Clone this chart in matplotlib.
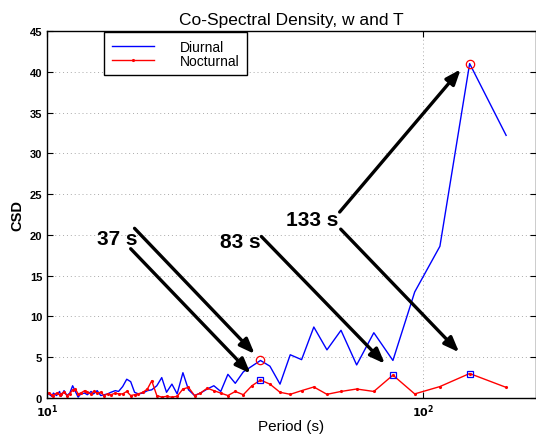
import math
import matplotlib
matplotlib.use("Agg")
import matplotlib.pyplot as plt
from matplotlib.ticker import FixedLocator, FuncFormatter, NullLocator

plt.rcParams['font.family'] = ['Liberation Sans', 'DejaVu Sans']

periods = [10.1, 10.3, 10.4, 10.6, 10.8, 10.9, 11.1, 11.3, 11.5, 11.7, 11.9, 12.1,
           12.3, 12.6, 12.8, 13.1, 13.3, 13.6, 13.9, 14.2, 14.5, 14.8, 15.2, 15.5,
           15.9, 16.3, 16.7, 17.1, 17.5, 18.0, 18.5, 19.0, 19.6, 20.2, 20.8, 21.5,
           22.2, 23.0, 23.8, 24.7, 25.6, 26.7, 27.8, 29.0, 30.3, 31.7, 33.3, 35.1,
           37.0, 39.2, 41.7, 44.4, 47.6, 51.3, 55.6, 60.6, 66.7, 74.1, 83.3, 95.2,
           111.1, 133.3, 166.7]

diurnal = [0.5, 0.2, 0.6, 0.3, 0.8, 0.2, 0.9, 0.3, 0.6, 1.5, 0.8, 0.1,
           0.5, 0.6, 0.4, 0.8, 0.5, 0.9, 0.3, 0.4, 0.5, 0.7, 0.9, 0.8,
           1.4, 2.3, 2.0, 0.7, 0.5, 0.6, 0.9, 1.0, 1.5, 2.5, 0.7, 1.7,
           0.5, 3.1, 1.0, 0.3, 0.6, 1.1, 1.5, 0.8, 2.9, 1.8, 3.2, 3.9,
           4.6, 3.9, 1.7, 5.3, 4.7, 8.7, 5.9, 8.3, 4.05, 8.0, 4.6, 13.0,
           18.6, 41.0, 32.2]

nocturnal = [0.6, 0.4, 0.3, 0.6, 0.4, 0.5, 0.7, 0.3, 0.5, 1.0, 1.1, 0.5,
             0.6, 0.9, 0.7, 0.5, 0.8, 0.6, 0.7, 0.3, 0.5, 0.4, 0.6, 0.5,
             0.5, 0.8, 0.3, 0.4, 0.5, 0.7, 1.1, 2.1, 0.3, 0.1, 0.2, 0.1,
             0.2, 1.1, 1.3, 0.3, 0.6, 1.2, 0.9, 0.6, 0.3, 0.8, 0.4, 1.5,
             2.2, 1.7, 0.7, 0.45, 0.9, 1.35, 0.45, 0.8, 1.1, 0.8, 2.8, 0.5,
             1.4, 3.0, 1.3]

circle_periods = [37.0, 133.3]
circle_values = [4.6, 41.0]
square_periods = [37.0, 83.3, 133.3]
square_values = [2.2, 2.8, 3.0]

# annotations: label, text position, list of (start, end) arrow pairs
annotations = [
    ("37 s", (15.4, 19.5), [((17.1, 20.8), (35.7, 5.4)), ((16.7, 18.3), (34.8, 3.0))]),
    ("83 s", (32.6, 19.2), [((37.2, 19.8), (79.3, 4.2))]),
    ("133 s", (50.7, 21.9), [((60.1, 22.8), (126.2, 40.3)), ((60.5, 20.7), (125.0, 5.6))]),
]

fig = plt.figure(figsize=(5.36, 4.35), dpi=100)
ax = fig.add_axes([0.0877, 0.0828, 0.912, 0.8437])

ax.plot(periods, diurnal, color='#0000ff', lw=1.0, label='Diurnal')
ax.plot(periods, nocturnal, color='#ff0000', lw=1.0, marker='.', markersize=2.5,
        label='Nocturnal')
ax.plot(circle_periods, circle_values, linestyle='none', marker='o', markersize=6,
        markerfacecolor='none', markeredgecolor='#ff0000', markeredgewidth=0.9)
ax.plot(square_periods, square_values, linestyle='none', marker='s', markersize=5,
        markerfacecolor='none', markeredgecolor='#0000ff', markeredgewidth=0.9)

for label, tpos, arrows in annotations:
    ax.text(tpos[0], tpos[1], label, fontsize=15, fontweight='bold',
            ha='center', va='center')
    for start, end in arrows:
        ax.annotate('', xy=end, xytext=start,
                    arrowprops=dict(arrowstyle='-|>,head_length=0.9,head_width=0.35',
                                    color='black', lw=2.4, shrinkA=0, shrinkB=0))

ax.set_xscale('log')
ax.set_xlim(10, 200)
ax.set_ylim(0, 45)
ax.xaxis.set_major_locator(FixedLocator([10, 100]))
ax.xaxis.set_minor_locator(NullLocator())
ax.xaxis.set_major_formatter(FuncFormatter(lambda v, p: r'$\mathbf{10^{%d}}$' % round(math.log10(v))))
ax.set_yticks(range(0, 46, 5))
ax.tick_params(axis='both', which='both', direction='in', top=True, right=True,
               labelsize=8, length=4)
for t in ax.get_yticklabels():
    t.set_fontweight('bold')
ax.grid(True, which='major', linestyle=(0, (1, 3)), color='#aaaaaa', lw=0.7)

for s in ax.spines.values():
    s.set_linewidth(1.0)

ax.set_title('Co-Spectral Density, w and T', fontsize=12.5, pad=5)
ax.set_xlabel('Period (s)', fontsize=11, va='center')
ax.xaxis.set_label_coords(0.5, -0.077)
ax.set_ylabel('CSD', fontsize=10.5, fontweight='bold', labelpad=4)

leg = ax.legend(loc='upper left', bbox_to_anchor=(0.117, 0.997), fontsize=10,
                frameon=True, fancybox=False, edgecolor='black', framealpha=1,
                handlelength=3.0, handletextpad=1.9, borderpad=0.55,
                labelspacing=0.0, borderaxespad=0)
leg.get_frame().set_linewidth(1.0)

fig.savefig('out.png', dpi=100)
